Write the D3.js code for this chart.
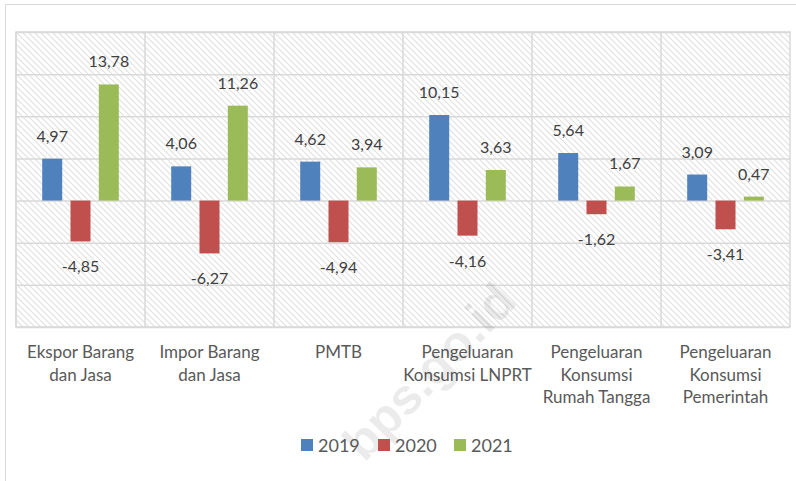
<!DOCTYPE html>
<html>
<head>
<meta charset="utf-8">
<script src="https://cdn.jsdelivr.net/npm/d3@7"></script>
<style>
  body { margin: 0; background: #fff; }
  svg { display: block; }
  text { font-family: Lato, "Open Sans", sans-serif; }
</style>
</head>
<body>
<div id="wrapper"></div>
<script>
// Data
const categories = [
  'Ekspor Barang|dan Jasa',
  'Impor Barang|dan Jasa',
  'PMTB',
  'Pengeluaran|Konsumsi LNPRT',
  'Pengeluaran|Konsumsi|Rumah Tangga',
  'Pengeluaran|Konsumsi|Pemerintah',
];
const years = ['2019', '2020', '2021'];
const values2019 = [4.97, 4.06, 4.62, 10.15, 5.64, 3.09];
const values2020 = [-4.85, -6.27, -4.94, -4.16, -1.62, -3.41];
const values2021 = [13.78, 11.26, 3.94, 3.63, 1.67, 0.47];
const gridTicks = [-15, -10, -5, 0, 5, 10, 15, 20];
const colors = ['#4f81bd', '#c0504d', '#9bbb59'];

const seriesValues = [values2019, values2020, values2021];
const dataset = [];
categories.forEach((c, i) => {
  years.forEach((y, j) => {
    dataset.push({ category: c, year: y, value: seriesValues[j][i] });
  });
});

// Dimensions
const dimensions = {
  width: 796,
  height: 481,
  margin: { top: 32, right: 6, bottom: 154, left: 16 },
};
dimensions.boundedWidth =
  dimensions.width - dimensions.margin.left - dimensions.margin.right;
dimensions.boundedHeight =
  dimensions.height - dimensions.margin.top - dimensions.margin.bottom;

// Scales
const xScale = d3
  .scaleBand()
  .domain(categories)
  .range([0, dimensions.boundedWidth]);

const cw = xScale.bandwidth();
const innerScale = d3
  .scaleBand()
  .domain(years)
  .range([cw / 2 - 38.3, cw / 2 + 38.3])
  .paddingInner(0.293);

const yScale = d3
  .scaleLinear()
  .domain([-15, 20])
  .range([dimensions.boundedHeight, 0]);

const colorScale = d3.scaleOrdinal().domain(years).range(colors);

// Canvas
const wrapper = d3
  .select('#wrapper')
  .append('svg')
  .attr('width', dimensions.width)
  .attr('height', dimensions.height);

// hatch pattern
wrapper
  .append('defs')
  .append('pattern')
  .attr('id', 'hatch')
  .attr('patternUnits', 'userSpaceOnUse')
  .attr('width', 6)
  .attr('height', 6)
  .call((p) => {
    p.append('path')
      .attr('d', 'M-1,-1 L7,7 M-1,5 L1,7 M5,-1 L7,1')
      .attr('stroke', '#e0e0e0')
      .attr('stroke-width', 1.1);
  });

// outer chart border
wrapper
  .append('path')
  .attr('d', 'M5.5,481 V4.5 H796')
  .attr('fill', 'none')
  .attr('stroke', '#d9d9d9')
  .attr('stroke-width', 1);

const bounds = wrapper
  .append('g')
  .attr(
    'transform',
    `translate(${dimensions.margin.left}, ${dimensions.margin.top})`
  );

bounds
  .append('rect')
  .attr('width', dimensions.boundedWidth)
  .attr('height', dimensions.boundedHeight)
  .attr('fill', 'url(#hatch)');

// Gridlines
const yGrid = d3
  .axisLeft(yScale)
  .tickValues(gridTicks)
  .tickSize(-dimensions.boundedWidth)
  .tickFormat('');
bounds
  .append('g')
  .call(yGrid)
  .call((g) => g.select('.domain').remove())
  .call((g) =>
    g.selectAll('line').attr('stroke', '#d9d9d9').attr('stroke-width', 1.5)
  );

const xGrid = d3
  .axisTop(xScale)
  .tickSize(-dimensions.boundedHeight)
  .tickFormat('');
bounds
  .append('g')
  .call(xGrid)
  .call((g) => g.select('.domain').remove())
  .call((g) =>
    g
      .selectAll('.tick line')
      .attr('transform', `translate(${-cw / 2},0)`)
      .attr('stroke', '#d9d9d9')
      .attr('stroke-width', 1.5)
  );

bounds
  .append('rect')
  .attr('width', dimensions.boundedWidth)
  .attr('height', dimensions.boundedHeight)
  .attr('fill', 'none')
  .attr('stroke', '#d9d9d9')
  .attr('stroke-width', 1.5);

// Bars
const barX = (d) => xScale(d.category) + innerScale(d.year);
bounds
  .selectAll('rect.bar')
  .data(dataset)
  .enter()
  .append('rect')
  .attr('class', 'bar')
  .attr('x', barX)
  .attr('y', (d) => yScale(Math.max(0, d.value)))
  .attr('width', innerScale.bandwidth())
  .attr('height', (d) => Math.abs(yScale(d.value) - yScale(0)))
  .attr('fill', (d) => colorScale(d.year));

// Watermark
wrapper
  .append('text')
  .attr('transform', 'translate(432,374) rotate(-46)')
  .attr('text-anchor', 'middle')
  .attr('dominant-baseline', 'middle')
  .style('font-family', '"Liberation Sans", Arial, sans-serif')
  .style('font-weight', 'bold')
  .style('font-size', '50px')
  .attr('fill', '#000')
  .attr('fill-opacity', 0.08)
  .text('bps.go.id');

// Value labels
const fmt = (v) => v.toFixed(2).replace('.', ',');
bounds
  .selectAll('text.value')
  .data(dataset)
  .enter()
  .append('text')
  .attr('class', 'value')
  .attr('x', (d) => barX(d) + innerScale.bandwidth() / 2)
  .attr('y', (d) =>
    d.value >= 0 ? yScale(d.value) - 17 : yScale(d.value) + 31
  )
  .attr('text-anchor', 'middle')
  .attr('fill', '#404040')
  .style('font-size', '16px')
  .text((d) => fmt(d.value));

// Category labels
const catLabels = bounds
  .selectAll('text.cat')
  .data(categories)
  .enter()
  .append('text')
  .attr('class', 'cat')
  .attr('text-anchor', 'middle')
  .attr('fill', '#595959')
  .style('font-size', '17px')
  .attr('transform', (d) => `translate(${xScale(d) + cw / 2}, 326)`);

catLabels
  .selectAll('tspan')
  .data((d) => d.split('|'))
  .enter()
  .append('tspan')
  .attr('x', 0)
  .attr('y', (d, i) => i * 22.5)
  .text((d) => d);

// Legend
const legendX = [301, 378, 454];
const legend = wrapper
  .append('g')
  .selectAll('g')
  .data(years)
  .enter()
  .append('g')
  .attr('transform', (d, i) => `translate(${legendX[i]}, 439)`);

legend
  .append('rect')
  .attr('width', 12)
  .attr('height', 12)
  .attr('fill', (d) => colorScale(d));

legend
  .append('text')
  .attr('x', 17)
  .attr('y', 12.5)
  .attr('fill', '#595959')
  .style('font-size', '18px')
  .text((d) => d);
</script>
</body>
</html>
